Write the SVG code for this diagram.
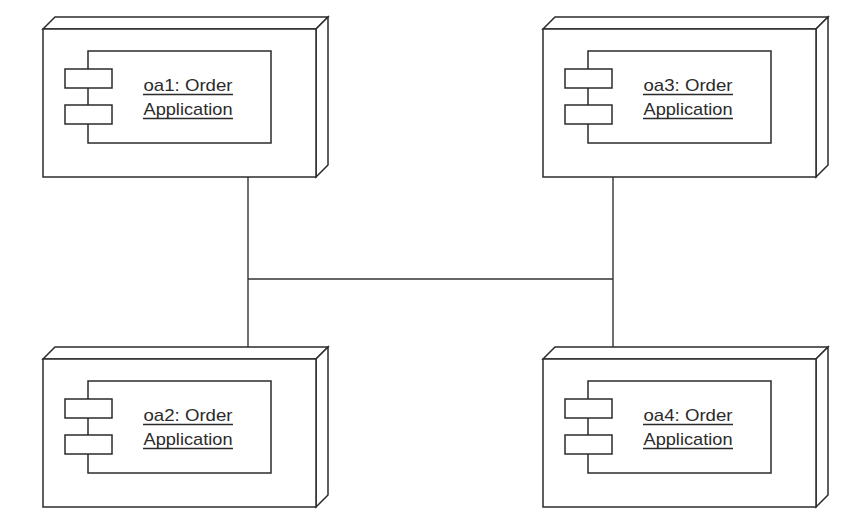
<svg xmlns="http://www.w3.org/2000/svg" xmlns:xlink="http://www.w3.org/1999/xlink" width="868" height="526" viewBox="0 0 868 526">
<style>
.s{fill:#fff;stroke:#2b2b2b;stroke-width:1.5;stroke-linejoin:miter}
.c{fill:none;stroke:#333;stroke-width:1.4}
.t{font-family:"Liberation Sans",Arial,sans-serif;font-size:17px;fill:#2b2b2b;text-anchor:middle}
.u{stroke:#2b2b2b;stroke-width:1.3}
</style>
<defs>
<g id="nodeShape">
<polygon class="s" points="0,0 12,-12 285,-12 273,0"/>
<polygon class="s" points="273,0 285,-12 285,136 273,148"/>
<rect class="s" x="0" y="0" width="273" height="148"/>
<rect class="s" x="45" y="22" width="183" height="92"/>
<rect class="s" x="22" y="40" width="47" height="19"/>
<rect class="s" x="22" y="76" width="47" height="19"/>
</g>
</defs>
<g id="connectors">
<line class="c" x1="248" y1="177" x2="248" y2="347"/>
<line class="c" x1="613" y1="177" x2="613" y2="347"/>
<line class="c" x1="248" y1="279" x2="613" y2="279"/>
</g>
<g id="oa1" transform="translate(43,29)">
<use xlink:href="#nodeShape"/>
<text class="t" x="145" y="62" textLength="89" lengthAdjust="spacingAndGlyphs">oa1: Order</text>
<line class="u" x1="100" y1="65.5" x2="190" y2="65.5"/>
<text class="t" x="145" y="86" textLength="89" lengthAdjust="spacingAndGlyphs">Application</text>
<line class="u" x1="100" y1="89.5" x2="190" y2="89.5"/>
</g>
<g id="oa3" transform="translate(543,29)">
<use xlink:href="#nodeShape"/>
<text class="t" x="145" y="62" textLength="89" lengthAdjust="spacingAndGlyphs">oa3: Order</text>
<line class="u" x1="100" y1="65.5" x2="190" y2="65.5"/>
<text class="t" x="145" y="86" textLength="89" lengthAdjust="spacingAndGlyphs">Application</text>
<line class="u" x1="100" y1="89.5" x2="190" y2="89.5"/>
</g>
<g id="oa2" transform="translate(43,359)">
<use xlink:href="#nodeShape"/>
<text class="t" x="145" y="62" textLength="89" lengthAdjust="spacingAndGlyphs">oa2: Order</text>
<line class="u" x1="100" y1="65.5" x2="190" y2="65.5"/>
<text class="t" x="145" y="86" textLength="89" lengthAdjust="spacingAndGlyphs">Application</text>
<line class="u" x1="100" y1="89.5" x2="190" y2="89.5"/>
</g>
<g id="oa4" transform="translate(543,359)">
<use xlink:href="#nodeShape"/>
<text class="t" x="145" y="62" textLength="89" lengthAdjust="spacingAndGlyphs">oa4: Order</text>
<line class="u" x1="100" y1="65.5" x2="190" y2="65.5"/>
<text class="t" x="145" y="86" textLength="89" lengthAdjust="spacingAndGlyphs">Application</text>
<line class="u" x1="100" y1="89.5" x2="190" y2="89.5"/>
</g>
</svg>
